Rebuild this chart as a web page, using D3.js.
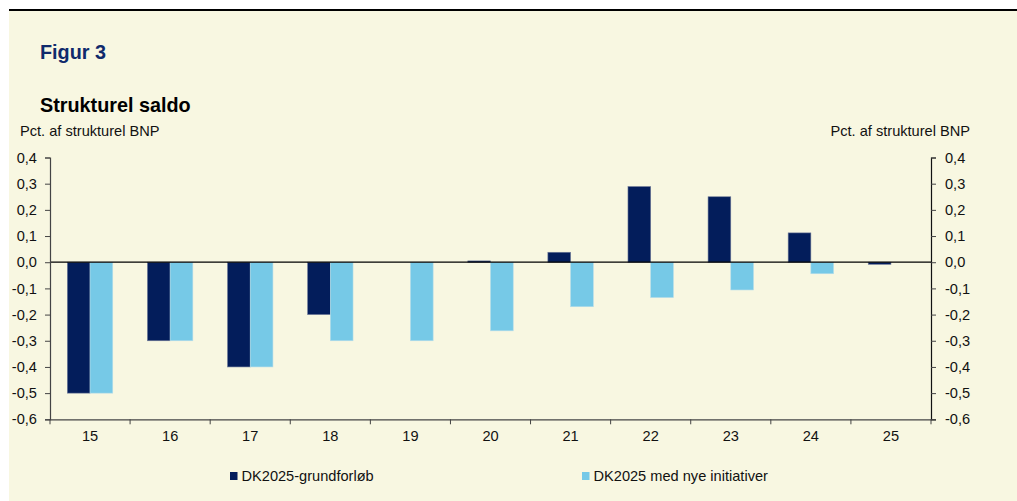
<!DOCTYPE html>
<html>
<head>
<meta charset="utf-8">
<script src="https://cdn.jsdelivr.net/npm/d3@7"></script>
<style>
  body { margin: 0; background: #fff; }
  svg { display: block; font-family: Arial, "Liberation Sans", sans-serif; }
</style>
</head>
<body>
<script>
// Width and height
var w = 1017;
var h = 501;

var years = ["15", "16", "17", "18", "19", "20", "21", "22", "23", "24", "25"];
var grundforloeb = [-0.5, -0.3, -0.4, -0.2, 0, 0.005, 0.038, 0.289, 0.25, 0.112, -0.008];
var nyeInitiativer = [-0.5, -0.3, -0.4, -0.3, -0.3, -0.262, -0.17, -0.135, -0.106, -0.044, 0];
var seriesNames = ["DK2025-grundforløb", "DK2025 med nye initiativer"];
var yTicks = [0.4, 0.3, 0.2, 0.1, 0, -0.1, -0.2, -0.3, -0.4, -0.5, -0.6];

var colors = ["#031d5b", "#76c9e7"];
var labelSize = "14.6px";

var svg = d3.select("body")
    .append("svg")
    .attr("width", w)
    .attr("height", h);

// background panel + top rule
svg.append("rect")
    .attr("x", 9).attr("y", 10)
    .attr("width", w - 9).attr("height", h - 10)
    .attr("fill", "#f8f7e1");
svg.append("line")
    .attr("x1", 9).attr("x2", w)
    .attr("y1", 10).attr("y2", 10)
    .attr("stroke", "#000").attr("stroke-width", 2);

svg.append("text").text("Figur 3")
    .attr("x", 40).attr("y", 59)
    .attr("font-size", "19.8px").attr("font-weight", "bold")
    .attr("fill", "#102a6c");
svg.append("text").text("Strukturel saldo")
    .attr("x", 40).attr("y", 112)
    .attr("font-size", "19.8px").attr("font-weight", "bold")
    .attr("fill", "#000");
svg.append("text").text("Pct. af strukturel BNP")
    .attr("x", 20).attr("y", 136)
    .attr("font-size", labelSize).attr("fill", "#111");
svg.append("text").text("Pct. af strukturel BNP")
    .attr("x", 970).attr("y", 136)
    .attr("text-anchor", "end")
    .attr("font-size", labelSize).attr("fill", "#111");

var plotL = 50, plotR = 931, plotT = 157.5, plotB = 419.3;

var x = d3.scaleBand()
    .domain(years)
    .range([plotL, plotR]);

var inner = d3.scaleBand()
    .domain([0, 1])
    .range([0, x.bandwidth() * 0.567]);

var y = d3.scaleLinear()
    .domain([-0.6, 0.4])
    .range([plotB, plotT]);

var dataset = years.map(function(d, i) {
    return { year: d, vals: [grundforloeb[i], nyeInitiativer[i]] };
});

var groups = svg.selectAll("g.grp")
    .data(dataset)
    .enter()
    .append("g")
    .attr("class", "grp")
    .attr("transform", function(d) {
        return "translate(" + (x(d.year) + (x.bandwidth() - inner.range()[1]) / 2) + ",0)";
    });

groups.selectAll("rect")
    .data(function(d) { return d.vals; })
    .enter()
    .append("rect")
    .attr("x", function(d, i) { return inner(i); })
    .attr("width", inner.bandwidth())
    .attr("y", function(d) { return y(Math.max(0, d)); })
    .attr("height", function(d) { return Math.abs(y(d) - y(0)); })
    .attr("fill", function(d, i) { return colors[i]; })
    .attr("stroke", function(d, i) { return i === 0 ? "#6f7a99" : "#b5dcea"; })
    .attr("stroke-width", 0.6)
    .attr("stroke-opacity", function(d) { return d === 0 ? 0 : 1; });

// zero line
svg.append("line")
    .attr("x1", plotL).attr("x2", plotR)
    .attr("y1", y(0)).attr("y2", y(0))
    .attr("stroke", "#000").attr("stroke-width", 1.2);

var fmt = function(d) { return d3.format(".1f")(d).replace(".", ",").replace("−", "-"); };

// left axis
var gl = svg.append("g")
    .attr("transform", "translate(" + plotL + ",0)")
    .call(d3.axisLeft(y).tickValues(yTicks).tickSize(5).tickPadding(8).tickFormat(fmt));

// right axis
var gr = svg.append("g")
    .attr("transform", "translate(" + plotR + ",0)")
    .call(d3.axisRight(y).tickValues(yTicks).tickSize(5).tickPadding(9).tickFormat(fmt));

// bottom axis
var gx = svg.append("g")
    .attr("transform", "translate(0," + plotB + ")")
    .call(d3.axisBottom(x).tickSize(0).tickPadding(11));

[gl, gr, gx].forEach(function(g) {
    g.select(".domain").attr("stroke", "#444").attr("stroke-width", 1.2);
    g.selectAll(".tick line").attr("stroke", "#444");
    g.selectAll(".tick text")
        .attr("font-family", "Arial, 'Liberation Sans', sans-serif")
        .attr("font-size", labelSize)
        .attr("fill", "#111");
});
gr.select(".domain").attr("stroke", "#111");

// x tick marks at band boundaries
svg.selectAll("line.xtick")
    .data(years.concat(["end"]))
    .enter()
    .append("line")
    .attr("class", "xtick")
    .attr("x1", function(d, i) { return plotL + i * x.step(); })
    .attr("x2", function(d, i) { return plotL + i * x.step(); })
    .attr("y1", plotB)
    .attr("y2", plotB + 5)
    .attr("stroke", "#444");

// legend
var legendX = [230, 582];
var legend = svg.selectAll("g.legend")
    .data(seriesNames)
    .enter()
    .append("g")
    .attr("class", "legend")
    .attr("transform", function(d, i) { return "translate(" + legendX[i] + ",472)"; });
legend.append("rect")
    .attr("width", 7.5).attr("height", 8)
    .attr("fill", function(d, i) { return colors[i]; });
legend.append("text")
    .text(function(d) { return d; })
    .attr("x", 11.5).attr("y", 8.5)
    .attr("font-size", labelSize).attr("fill", "#111");
</script>
</body>
</html>
